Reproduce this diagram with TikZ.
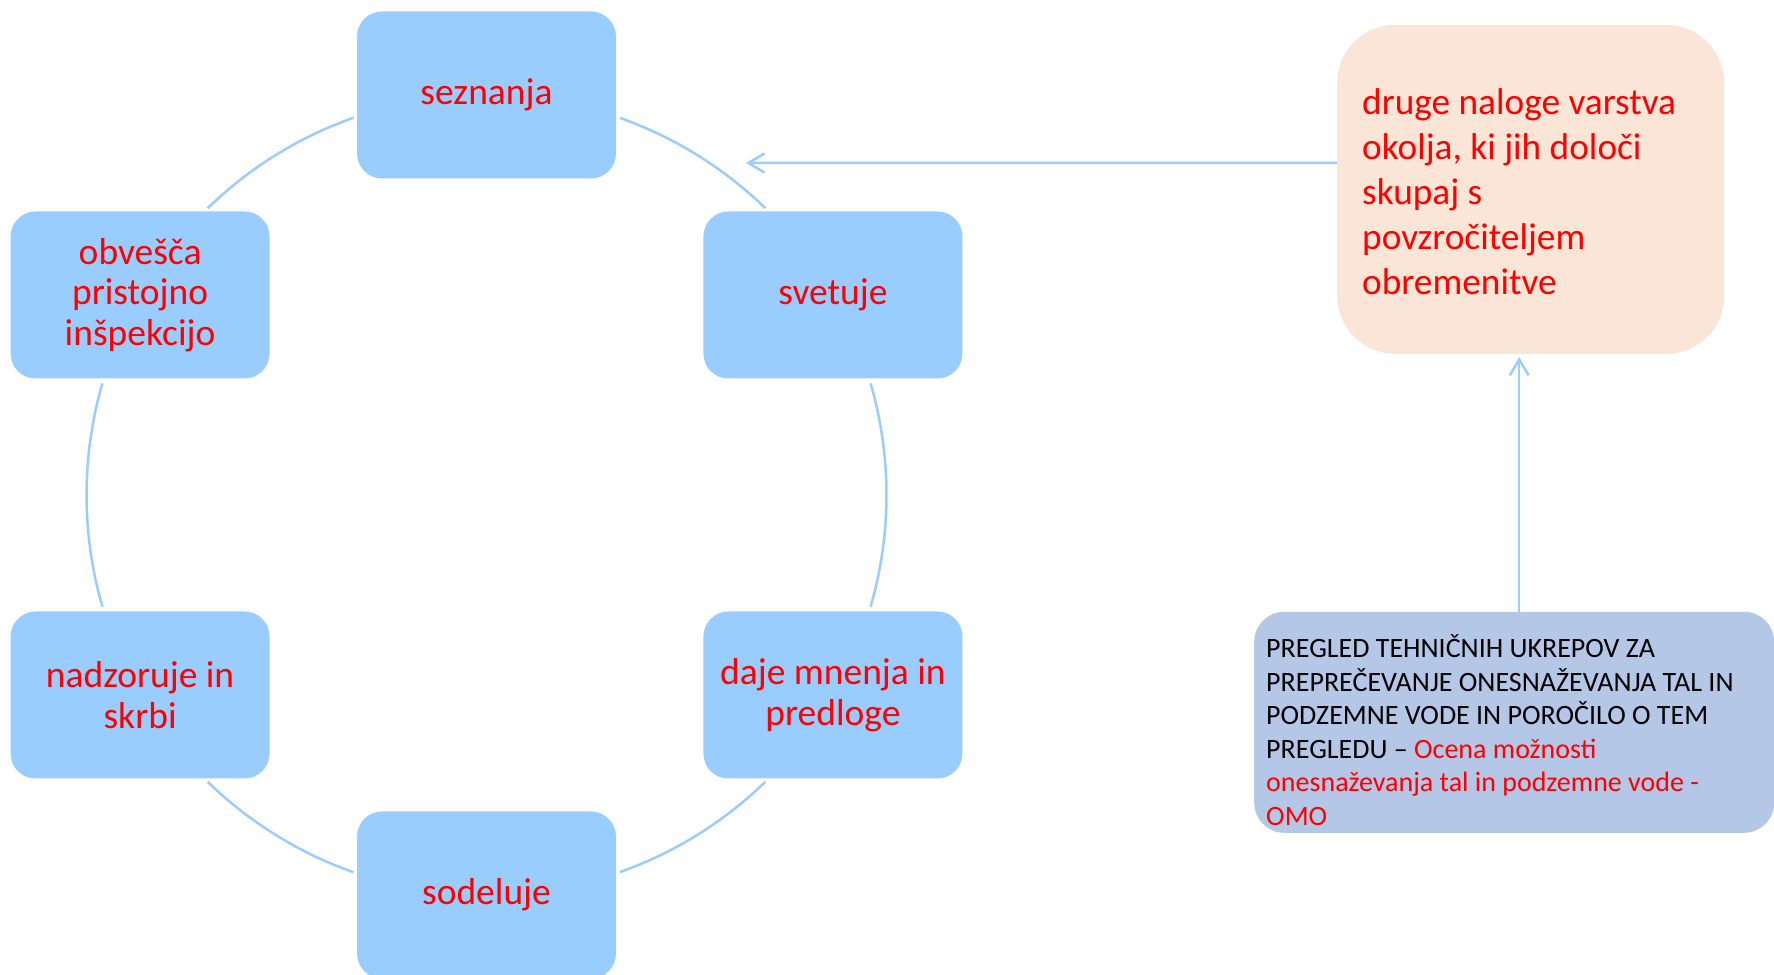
\documentclass[tikz,border=0pt]{standalone}
\usepackage{fontspec}
\setmainfont{Carlito}
\usetikzlibrary{arrows.meta,calc}
\definecolor{nodeblue}{HTML}{99CCFF}
\definecolor{arcblue}{HTML}{9CCBFF}
\definecolor{peach}{HTML}{FBE5D6}
\definecolor{boxblue}{HTML}{B4C7E7}
\definecolor{txtred}{HTML}{FF0000}
\begin{document}
\begin{tikzpicture}[x=1pt,y=1pt,
  cyc/.style={fill=nodeblue, rounded corners=25pt, minimum width=259pt, minimum height=167pt, inner sep=0pt, text=txtred, align=center, font=\fontsize{37.5}{40.7}\selectfont},
  ring/.style={draw=arcblue, line width=2.5pt},
  link/.style={draw=arcblue, line width=2.5pt, -{Straight Barb[length=16pt,width=19pt,line width=2.5pt]}},
  bigtext/.style={anchor=base west, inner sep=0pt, text=txtred, font=\fontsize{37.3}{45}\selectfont},
  smalltext/.style={anchor=base west, inner sep=0pt, text=black, font=\fontsize{28}{33.5}\selectfont}]
\useasboundingbox (0,0) rectangle (1774,974);
\coordinate (C) at (486.5,479);
% cycle nodes
\node[cyc] (sez) at ($(C)+(90:400)$) {seznanja};
\node[cyc] (svet) at ($(C)+(30:400)$) {svetuje};
\node[cyc] (daje) at ($(C)+(-30:400)$) {daje mnenja in\\predloge};
\node[cyc] (sod) at ($(C)+(-90:400)$) {sodeluje};
\node[cyc] (nadz) at ($(C)+(-150:400)$) {nadzoruje in\\skrbi};
\node[cyc] (obv) at ($(C)+(150:400)$) {obvešča\\pristojno\\inšpekcijo};
% ring arcs
\draw[ring] ($(C)+(70.5:400)$) arc[start angle=70.5, end angle=45.8, radius=400];
\draw[ring] ($(C)+(16.2:400)$) arc[start angle=16.2, end angle=-16.2, radius=400];
\draw[ring] ($(C)+(-45.8:400)$) arc[start angle=-45.8, end angle=-70.5, radius=400];
\draw[ring] ($(C)+(-109.4:400)$) arc[start angle=-109.4, end angle=-134.2, radius=400];
\draw[ring] ($(C)+(-163.8:400)$) arc[start angle=-163.8, end angle=-196.2, radius=400];
\draw[ring] ($(C)+(134.2:400)$) arc[start angle=134.2, end angle=109.4, radius=400];
% right boxes
\node[fill=peach, rounded corners=58pt, minimum width=387pt, minimum height=329pt, inner sep=0pt, anchor=south west] (peachbox) at (1337,620) {};
\node[bigtext] (peachtxt) at (1362,859) {\vtop{\baselineskip=45pt
  \hbox{druge naloge varstva}
  \hbox{okolja, ki jih določi}
  \hbox{skupaj s}
  \hbox{povzročiteljem}
  \hbox{obremenitve}}};
\node[fill=boxblue, rounded corners=30pt, minimum width=520pt, minimum height=221pt, inner sep=0pt, anchor=south west] (bbox) at (1254,141) {};
\node[smalltext] (btxt) at (1266,316) {\vtop{\baselineskip=33.5pt
  \hbox{PREGLED TEHNIČNIH UKREPOV ZA}
  \hbox{PREPREČEVANJE ONESNAŽEVANJA TAL IN}
  \hbox{PODZEMNE VODE IN POROČILO O TEM}
  \hbox{PREGLEDU – \textcolor{txtred}{Ocena možnosti}}
  \hbox{\textcolor{txtred}{onesnaževanja tal in podzemne vode -}}
  \hbox{\textcolor{txtred}{OMO}}}};
% arrows
\coordinate (tipH) at (746,811);
\draw[link] ([yshift=26.5pt]peachbox.west) -- (tipH);
\draw[link, shorten >=3pt] ([xshift=5pt]bbox.north) -- ([xshift=-11.5pt]peachbox.south);
\end{tikzpicture}
\end{document}
